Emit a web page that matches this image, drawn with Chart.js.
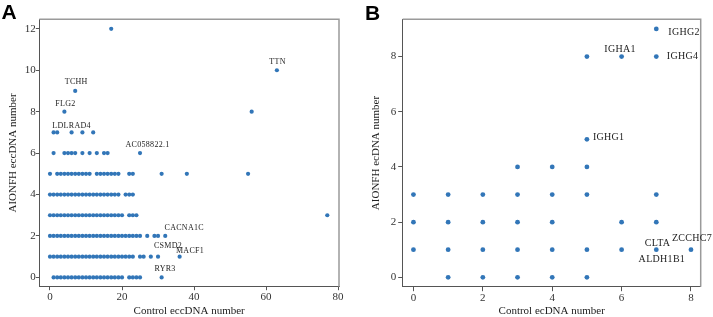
<!DOCTYPE html>
<html><head><meta charset="utf-8">
<script src="https://cdn.jsdelivr.net/npm/chart.js@4"></script>
<style>
html,body{margin:0;padding:0;background:#fff;width:713px;height:317px;overflow:hidden}
#wrap{position:relative;width:713px;height:317px}
canvas{position:absolute;top:0}
.tag{position:absolute;font:bold 21px 'Liberation Sans',Arial,sans-serif;color:#000;line-height:1}
</style></head><body>
<div id="wrap">
<canvas id="cA" width="356" height="317" style="left:0"></canvas>
<canvas id="cB" width="357" height="317" style="left:356px"></canvas>
<div class="tag" style="left:1.5px;top:0.5px">A</div>
<div class="tag" style="left:365px;top:1.5px">B</div>
</div>
<script>
// ---------- Panel A data: control eccDNA counts at each AIONFH eccDNA count ----------
const aionfhLevelsA = [0, 1, 2, 3, 4, 5, 6, 7, 8, 9, 10, 12];
const controlA_y0 = [1,2,3,4,5,6,7,8,9,10,11,12,13,14,15,16,17,18,19,20,22,23,24,25,31];
const controlA_y1 = [0,1,2,3,4,5,6,7,8,9,10,11,12,13,14,15,16,17,18,19,20,21,22,23,25,26,28,30,36];
const controlA_y2 = [0,1,2,3,4,5,6,7,8,9,10,11,12,13,14,15,16,17,18,19,20,21,22,23,24,25,27,29,30,32];
const controlA_y3 = [0,1,2,3,4,5,6,7,8,9,10,11,12,13,14,15,16,17,18,19,20,22,23,24,77];
const controlA_y4 = [0,1,2,3,4,5,6,7,8,9,10,11,12,13,14,15,16,17,18,19,21,22,23];
const controlA_y5 = [0,2,3,4,5,6,7,8,9,10,11,13,14,15,16,17,18,19,22,23,31,38,55];
const controlA_y6 = [1,4,5,6,7,9,11,13,15,16,25];
const controlA_y7 = [1,2,6,9,12];
const controlA_y8 = [4,56];
const controlA_y9 = [7];
const controlA_y10 = [63];
const controlA_y12 = [17];
const xTicksA = [0, 20, 40, 60, 80];
const yTicksA = [0, 2, 4, 6, 8, 10, 12];
const geneA = ['TCHH','FLG2','LDLRAD4','AC058822.1','TTN','CACNA1C','CSMD2','MACF1','RYR3'];
const geneAx = [7, 4, 6, 25, 63, 32, 30, 36, 31];
const geneAy = [9, 8, 7, 6, 10, 2, 1, 1, 0];

// ---------- Panel B data: control ecDNA counts at each AIONFH ecDNA count ----------
const aionfhLevelsB = [0, 1, 2, 3, 4, 5, 8, 9];
const controlB_y0 = [1,2,3,4,5];
const controlB_y1 = [0,1,2,3,4,5,6,7,8];
const controlB_y2 = [0,1,2,3,4,6,7];
const controlB_y3 = [0,1,2,3,4,5,7];
const controlB_y4 = [3,4,5];
const controlB_y5 = [5];
const controlB_y8 = [5,6,7];
const controlB_y9 = [7];
const xTicksB = [0, 2, 4, 6, 8];
const yTicksB = [0, 2, 4, 6, 8];
const geneB = ['IGHG2','IGHA1','IGHG4','IGHG1','CLTA','ZCCHC7','ALDH1B1'];
const geneBx = [7, 6, 7, 5, 7, 8, 7];
const geneBy = [9, 8, 8, 5, 1, 1, 1];

// ---------- styles (pixel offsets of labels from their points) ----------
const labelStyleA = [[1,-9.5],[1,-7.5],[0,-6],[7.5,-8],[0.7,-8.6],[19,-7.6],[10,-10.6],[10.4,-5.6],[3.4,-8]];
const labelStyleB = [[12,3.4,'left'],[-1.5,-7.5],[10.5,0,'left'],[6,-2,'left'],[1.3,-6.4],[1,-11.4],[5.6,9.3]];

const DOT = '#3276b8';
const SERIF = "'Liberation Serif','Times New Roman',serif";

function toPoints(levels, rows) {
  const pts = [];
  levels.forEach((lv, i) => rows[i].forEach(x => pts.push({x: x, y: lv})));
  return pts;
}

function labelPlugin(names, xs, ys, style, font) {
  return {
    id: 'geneLabels',
    afterDatasetsDraw(chart) {
      const {ctx, scales} = chart;
      ctx.save();
      ctx.font = font;
      ctx.fillStyle = '#222';
      ctx.textBaseline = 'middle';
      if ('letterSpacing' in ctx) ctx.letterSpacing = '0.3px';
      names.forEach((n, i) => {
        const st = style[i];
        ctx.textAlign = st[2] || 'center';
        ctx.fillText(n, scales.x.getPixelForValue(xs[i]) + st[0], scales.y.getPixelForValue(ys[i]) + st[1]);
      });
      ctx.restore();
    }
  };
}

const framePlugin = {
  id: 'frame',
  afterDatasetsDraw(chart) {
    const {ctx, chartArea: a} = chart;
    ctx.save();
    ctx.strokeStyle = '#9a9a9a';
    ctx.lineWidth = 1.5;
    ctx.beginPath();
    ctx.moveTo(a.left, a.top);
    ctx.lineTo(a.right, a.top);
    ctx.lineTo(a.right, a.bottom);
    ctx.stroke();
    ctx.restore();
  }
};

function axis(min, max, ticks, title, titlePad, size, tickLen, tickPad, isY) {
  return {
    type: 'linear', min: min, max: max,
    afterBuildTicks: s => { s.ticks = ticks.map(v => ({value: v})); },
    afterFit: s => { if (isY) s.width = size; else s.height = size; },
    grid: {display: true, drawOnChartArea: false, drawTicks: true, tickLength: tickLen, tickColor: '#555', tickWidth: 1},
    border: {display: true, color: '#555', width: 1},
    ticks: {font: {family: SERIF, size: 11}, color: '#333', padding: tickPad, maxRotation: 0, autoSkip: false, callback: v => String(v)},
    title: {display: true, text: title, font: {family: SERIF, size: 11, lineHeight: 1}, color: '#222', padding: titlePad}
  };
}

function makeChart(id, pts, radius, scales, padRight, plugins) {
  return new Chart(document.getElementById(id), {
    type: 'scatter',
    data: {datasets: [{data: pts, backgroundColor: DOT, borderWidth: 0, pointRadius: radius, pointHoverRadius: radius}]},
    options: {
      responsive: false, animation: false, devicePixelRatio: 1,
      layout: {padding: {left: 0, right: padRight, top: 19.3, bottom: 0}},
      plugins: {legend: {display: false}, tooltip: {enabled: false}},
      scales: scales
    },
    plugins: plugins
  });
}

const ptsA = toPoints(aionfhLevelsA, [controlA_y0, controlA_y1, controlA_y2, controlA_y3, controlA_y4, controlA_y5,
  controlA_y6, controlA_y7, controlA_y8, controlA_y9, controlA_y10, controlA_y12]);
const ptsB = toPoints(aionfhLevelsB, [controlB_y0, controlB_y1, controlB_y2, controlB_y3, controlB_y4, controlB_y5,
  controlB_y8, controlB_y9]);

makeChart('cA', ptsA, 2.1, {
  x: axis(-2.97, 80.25, xTicksA, 'Control eccDNA number', {top: 0, bottom: 0}, 30.3, 3.5, 0, false),
  y: axis(-0.45, 12.46, yTicksA, 'AIONFH eccDNA number', {top: 7.8, bottom: 0}, 39.3, 3.5, 0, true)
}, 17, [framePlugin, labelPlugin(geneA, geneAx, geneAy, labelStyleA, '8px ' + SERIF)]);

makeChart('cB', ptsB, 2.4, {
  x: axis(-0.31, 8.28, xTicksB, 'Control ecDNA number', {top: 0, bottom: 0}, 30.3, 4.5, 0, false),
  y: axis(-0.34, 9.35, yTicksB, 'AIONFH ecDNA number', {top: 14.5, bottom: 0}, 46.7, 4.5, 2, true)
}, 12.3, [framePlugin, labelPlugin(geneB, geneBx, geneBy, labelStyleB, '10px ' + SERIF)]);
</script>
</body></html>
